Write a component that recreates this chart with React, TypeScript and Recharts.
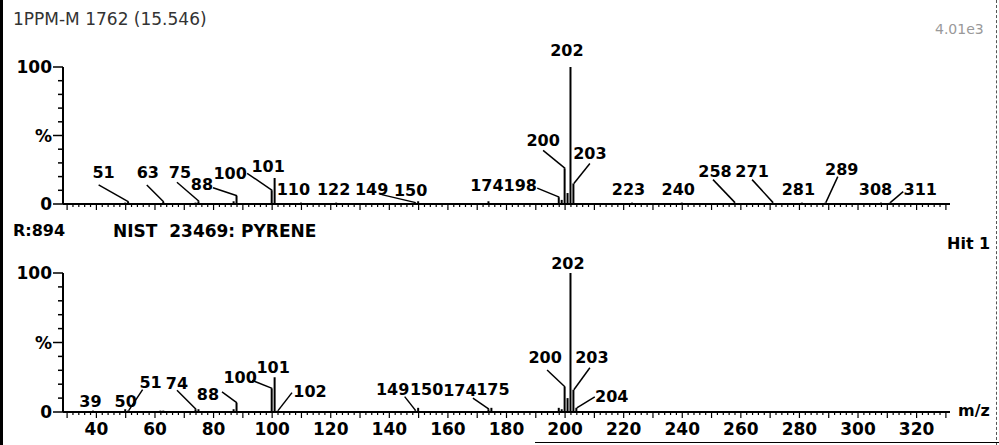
import { ComposedChart, Bar, Scatter, XAxis, YAxis, ReferenceLine } from 'recharts';

const FONT = '"DejaVu Sans", sans-serif';
const X_DOMAIN: [number, number] = [28.6, 331.4];

// sample spectrum (upper trace)
const sampleMz = [50, 51, 63, 74, 75, 87, 88, 100, 101, 110, 122, 149, 150, 174, 198, 199, 200, 201, 202, 203, 223, 240, 258, 271, 281, 289, 308, 311];
const sampleInt = [1, 1.5, 1.5, 1, 2, 2, 6, 10, 19, 1, 1, 1, 2, 2, 5, 3, 26, 8, 100, 15, 1, 1, 1, 1, 1, 1, 1, 1];
const sampleLabels = [51, 63, 75, 88, 100, 101, 110, 122, 149, 150, 174, 198, 200, 202, 203, 223, 240, 258, 271, 281, 289, 308, 311];

// NIST library hit (lower trace)
const libMz = [39, 50, 51, 62, 63, 74, 75, 87, 88, 100, 101, 102, 149, 150, 174, 175, 198, 199, 200, 201, 202, 203, 204];
const libInt = [1, 2, 1, 1, 1, 2, 2, 2, 6.5, 17, 25, 1, 1, 3, 2, 3, 3, 2, 18, 10, 100, 16, 3];
const libLabels = [39, 50, 51, 74, 88, 100, 101, 102, 149, 150, 174, 175, 200, 202, 203, 204];

const mzTickLabels = [40, 60, 80, 100, 120, 140, 160, 180, 200, 220, 240, 260, 280, 300, 320];
const pctTicks = [0, 10, 20, 30, 40, 50, 60, 70, 80, 90, 100];
const minorTicks: number[] = [];
for (let v = 30; v <= 330; v += 2) minorTicks.push(v);

const sampleData = sampleMz.map((mz, i) => ({ mz, pct: sampleInt[i] }));
const libData = libMz.map((mz, i) => ({ mz, pct: libInt[i] }));
const sampleLabelData = sampleData.filter((d) => sampleLabels.includes(d.mz));
const libLabelData = libData.filter((d) => libLabels.includes(d.mz));

// label placement relative to peak top: [textDx, textDy, leaderDx, leaderDy]
const sampleLayout: Record<number, number[]> = {
  51: [-25, -29, -30, -17],
  63: [-16, -29, -17, -17],
  75: [-19, -29, -22, -19],
  88: [-35, -11, -24, -8],
  100: [-42, -17, -25, -17],
  101: [-7, -11],
  110: [-8, -13],
  122: [-3, -13],
  149: [-44, -13, -34, -8],
  150: [-8, -11],
  174: [-2, -16],
  198: [-39, -12, -22, -9],
  200: [-22, -28, -22, -18],
  202: [-4, -17],
  203: [16, -30, 16, -20],
  223: [-4, -13],
  240: [-4, -13],
  258: [-20, -31, -22, -23],
  271: [-21, -31, -21, -23],
  281: [-4, -13],
  289: [16, -33, 12, -26],
  308: [-6, -13],
  311: [30, -13, 13, -11],
};

const libLayout: Record<number, number[]> = {
  39: [-3, -9],
  50: [0, -8],
  51: [22, -28, 14, -21],
  74: [-19, -26, -19, -19],
  88: [-29, -8, -15, -11],
  100: [-32, -11, -20, -8],
  101: [-2, -10],
  102: [32, -19, 14, -18],
  149: [-23, -21, -11, -14],
  150: [8, -18],
  174: [-29, -19, -16, -11],
  175: [1, -18],
  200: [-20, -29, -18, -17],
  202: [-3, -10],
  203: [18, -32, 16, -22],
  204: [35, -11, 18, -11],
};

const PeakLabel = (props: any) => {
  const { cx, cy, payload, layout } = props;
  const l = layout[payload.mz] || [0, -12];
  return (
    <g>
      {l.length > 2 && (
        <line x1={cx + l[2]} y1={cy + l[3]} x2={cx} y2={cy} stroke="#000" strokeWidth={1.5} />
      )}
      <text
        x={cx + l[0]}
        y={cy + l[1]}
        textAnchor="middle"
        dominantBaseline="central"
        fontFamily={FONT}
        fontWeight="bold"
        fontSize={16}
        fill="#000"
      >
        {payload.mz}
      </text>
    </g>
  );
};

const YTick = (props: any) => {
  const { x, y, payload } = props;
  const v = payload.value;
  const label = v === 100 ? '100' : v === 50 ? '%' : v === 0 ? '0' : null;
  return (
    <g>
      <line x1={x - (label ? 10 : 5)} x2={x} y1={y} y2={y} stroke="#000" strokeWidth={1.5} />
      {label && (
        <text x={x - 11} y={y} textAnchor="end" dominantBaseline="central" fontFamily={FONT} fontWeight="bold" fontSize={17} fill="#000">
          {label}
        </text>
      )}
    </g>
  );
};

const makeXTick = (showLabels: boolean) => (props: any) => {
  const { x, y, payload } = props;
  const v = payload.value;
  const major = v % 10 === 0;
  return (
    <g>
      <line x1={x} x2={x} y1={y} y2={y + (major ? 6 : 3)} stroke="#000" strokeWidth={1.2} />
      {showLabels && mzTickLabels.includes(v) && (
        <text x={x} y={y + 17} textAnchor="middle" dominantBaseline="central" fontFamily={FONT} fontWeight="bold" fontSize={17} fill="#000">
          {v}
        </text>
      )}
    </g>
  );
};

function SpectrumPanel({ data, labels, layout, height, top, xHeight, showLabels }: any) {
  return (
    <ComposedChart
      width={999}
      height={height}
      data={data}
      margin={{ top, right: 49, bottom: 0, left: 0 }}
    >
      <XAxis
        type="number"
        dataKey="mz"
        domain={X_DOMAIN}
        ticks={minorTicks}
        interval={0}
        tickSize={0}
        tickMargin={0}
        tickLine={false}
        tick={makeXTick(showLabels)}
        axisLine={{ stroke: '#000', strokeWidth: 2 }}
        height={xHeight}
      />
      <YAxis
        type="number"
        domain={[0, 110]}
        ticks={pctTicks}
        interval={0}
        width={63}
        tickSize={0}
        tickMargin={0}
        tickLine={false}
        axisLine={false}
        tick={<YTick />}
      />
      <ReferenceLine
        segment={[{ x: X_DOMAIN[0], y: 0 }, { x: X_DOMAIN[0], y: 100 }]}
        stroke="#000"
        strokeWidth={2}
        ifOverflow="visible"
      />
      <Bar dataKey="pct" barSize={2} fill="#000" isAnimationActive={false} />
      <Scatter
        data={labels}
        dataKey="pct"
        isAnimationActive={false}
        shape={(p: any) => <PeakLabel {...p} layout={layout} />}
      />
    </ComposedChart>
  );
}

const txt = (left: number, cy: number, size: number, extra: any = {}) => ({
  position: 'absolute' as const,
  left,
  top: cy - size / 2,
  fontFamily: FONT,
  fontSize: size,
  lineHeight: 1,
  whiteSpace: 'pre' as const,
  fontWeight: 'bold' as const,
  color: '#000',
  ...extra,
});

export default function App() {
  return (
    <div style={{ position: 'relative', width: 999, height: 445, background: '#fff', overflow: 'hidden' }}>
      <style>{'body{margin:0}'}</style>
      <div style={{ position: 'absolute', left: 0, top: 0 }}>
        <SpectrumPanel data={sampleData} labels={sampleLabelData} layout={sampleLayout} height={220} top={53.3} xHeight={16} showLabels={false} />
      </div>
      <div style={{ position: 'absolute', left: 0, top: 220 }}>
        <SpectrumPanel data={libData} labels={libLabelData} layout={libLayout} height={225} top={39.1} xHeight={33} showLabels={true} />
      </div>
      <div style={txt(13, 19, 17, { fontWeight: 'normal', color: '#333' })}>1PPM-M 1762 (15.546)</div>
      <div style={txt(935, 29, 14, { fontWeight: 'normal', color: '#999' })}>4.01e3</div>
      <div style={txt(13, 231, 16)}>R:894</div>
      <div style={txt(113, 231, 17)}>NIST  23469: PYRENE</div>
      <div style={txt(947, 244, 16)}>Hit 1</div>
      <div style={txt(958, 411, 16)}>m/z</div>
      <div style={{ position: 'absolute', left: 0, top: 0, width: 3, height: 445, background: '#000' }} />
      <div style={{ position: 'absolute', left: 996, top: 0, width: 0, height: 445, borderLeft: '1px dashed #555' }} />
      <div style={{ position: 'absolute', left: 535, top: 442, width: 464, height: 1, background: '#000' }} />
    </div>
  );
}
